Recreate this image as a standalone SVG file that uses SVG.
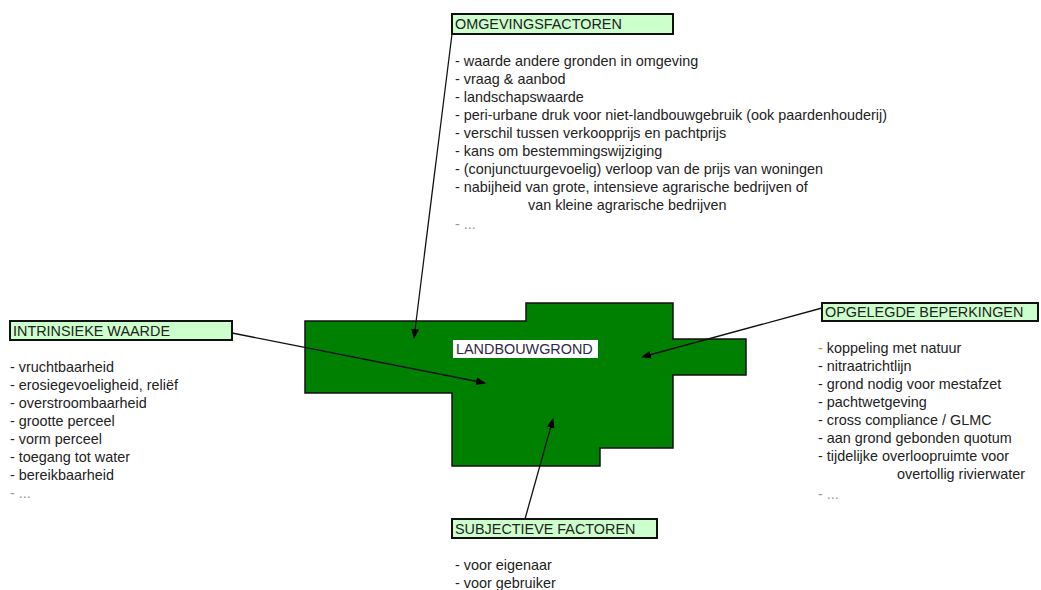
<svg xmlns="http://www.w3.org/2000/svg" width="1041" height="590" viewBox="0 0 1041 590">
<defs>
<marker id="ah" markerWidth="10" markerHeight="8" refX="9" refY="4" orient="auto" markerUnits="userSpaceOnUse">
<path d="M0,0 L10,4 L0,8 z" fill="#000"/>
</marker>
<style>
text{font-family:"Liberation Sans",Arial,sans-serif;font-size:14.4px;fill:#222}
.hd{fill:#ccffcc;stroke:#111;stroke-width:2}
.dots{fill:#999}
.con{stroke:#111;stroke-width:1.3;fill:none;marker-end:url(#ah)}
</style>
</defs>
<rect width="1041" height="590" fill="#fff"/>
<g id="landbouwgrond">
<path d="M305,321 H526 V303 H673 V339 H746 V375 H673 V448 H600 V466 H452 V393 H305 Z" fill="#008000" stroke="#111" stroke-width="1.5"/>
<rect x="453" y="340" width="145" height="18" fill="#fff"/>
<text x="456" y="354" style="fill:#2a2a44">LANDBOUWGROND</text>
</g>
<g id="omgevingsfactoren">
<rect class="hd" x="452" y="14" width="221" height="20"/>
<text x="455" y="29">OMGEVINGSFACTOREN</text>
<text x="455" y="65.5">- waarde andere gronden in omgeving</text>
<text x="455" y="83.5">- vraag &amp; aanbod</text>
<text x="455" y="101.5">- landschapswaarde</text>
<text x="455" y="119.5">- peri-urbane druk voor niet-landbouwgebruik (ook paardenhouderij)</text>
<text x="455" y="137.5">- verschil tussen verkoopprijs en pachtprijs</text>
<text x="455" y="155.5">- kans om bestemmingswijziging</text>
<text x="455" y="173.5">- (conjunctuurgevoelig) verloop van de prijs van woningen</text>
<text x="455" y="191.5">- nabijheid van grote, intensieve agrarische bedrijven of</text>
<text x="528" y="209.5">van kleine agrarische bedrijven</text>
<text x="455" y="229" class="dots">- ...</text>
</g>
<g id="intrinsieke">
<rect class="hd" x="10" y="321" width="222" height="19"/>
<text x="13" y="335.5">INTRINSIEKE WAARDE</text>
<text x="10" y="372">- vruchtbaarheid</text>
<text x="10" y="390">- erosiegevoeligheid, reliëf</text>
<text x="10" y="408">- overstroombaarheid</text>
<text x="10" y="426">- grootte perceel</text>
<text x="10" y="444">- vorm perceel</text>
<text x="10" y="462">- toegang tot water</text>
<text x="10" y="480">- bereikbaarheid</text>
<text x="10" y="498" class="dots">- ...</text>
</g>
<g id="opgelegde">
<rect class="hd" x="822" y="303" width="216" height="18"/>
<text x="825" y="317">OPGELEGDE BEPERKINGEN</text>
<text x="818" y="353"><tspan style="fill:#c87a30">-</tspan> koppeling met natuur</text>
<text x="818" y="371">- nitraatrichtlijn</text>
<text x="818" y="389">- grond nodig voor mestafzet</text>
<text x="818" y="407">- pachtwetgeving</text>
<text x="818" y="425">- cross compliance / GLMC</text>
<text x="818" y="443">- aan grond gebonden quotum</text>
<text x="818" y="461">- tijdelijke overloopruimte voor</text>
<text x="897" y="479">overtollig rivierwater</text>
<text x="818" y="499" class="dots">- ...</text>
</g>
<g id="subjectieve">
<rect class="hd" x="452" y="519" width="205" height="19"/>
<text x="455" y="533.5">SUBJECTIEVE FACTOREN</text>
<text x="455" y="570">- voor eigenaar</text>
<text x="455" y="588">- voor gebruiker</text>
</g>
<g id="connectors">
<line class="con" x1="452" y1="34" x2="414" y2="338"/>
<line class="con" x1="232" y1="333" x2="485" y2="383"/>
<line class="con" x1="822" y1="308" x2="642" y2="357"/>
<line class="con" x1="525" y1="519" x2="553" y2="419"/>
</g>
</svg>
